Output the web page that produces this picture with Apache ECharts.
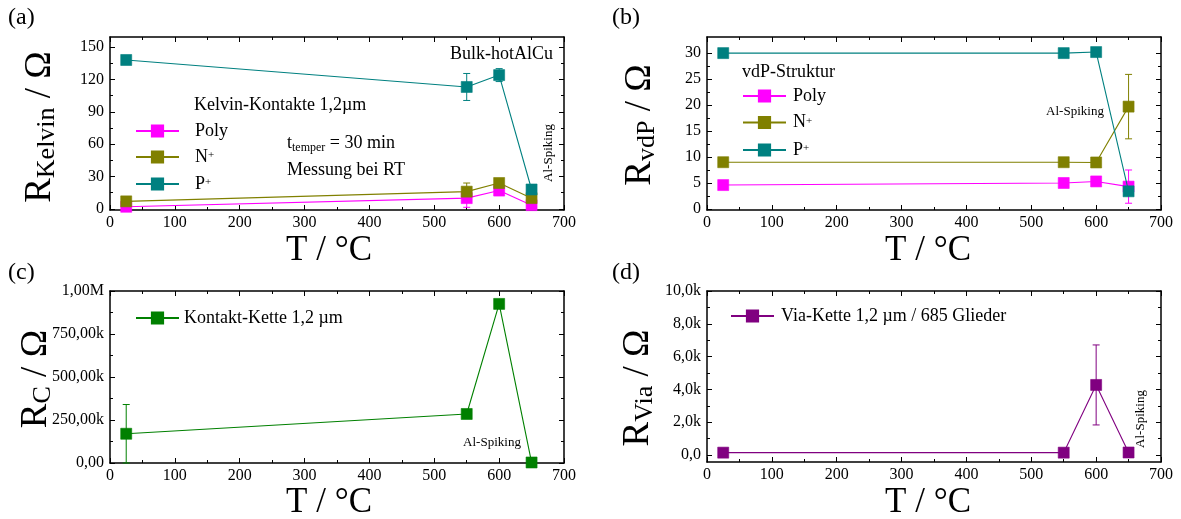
<!DOCTYPE html>
<html>
<head>
<meta charset="utf-8">
<script src="https://cdn.jsdelivr.net/npm/echarts@6/dist/echarts.min.js"></script>
<style>
  html, body { margin: 0; padding: 0; background: #fff; }
  #chart { width: 1181px; height: 519px; }
</style>
</head>
<body>
<div id="chart"></div>
<script>
// Annealing temperatures (°C)
const temps = [25, 550, 600, 650];

// (a) Kelvin contacts 1,2 µm  (Ω)
const kelvinPoly    = [2, 10, 17, 3.5];
const kelvinPolyErr = [0, 8.5, 0, 0];
const kelvinN       = [7, 16, 24, 10];
const kelvinNErr    = [0, 8, 0, 0];
const kelvinP       = [138, 113, 124, 18];
const kelvinPErr    = [0, 12.5, 6, 0];

// (b) van-der-Pauw structure (Ω)
const vdpPoly    = [4.6, 5.0, 5.3, 4.3];
const vdpPolyErr = [0, 0, 0, 3.2];
const vdpN       = [9.0, 9.0, 8.95, 19.7];
const vdpNErr    = [0, 0, 0, 6.2];
const vdpP       = [30.0, 30.0, 30.2, 3.4];
const vdpPErr    = [0, 0, 0, 0];

// (c) contact chain (Ω)
const chainC    = [170000, 285000, 925000, 3000];
const chainCErr = [170000, 0, 0, 0];

// (d) via chain, 685 links (Ω)
const chainVia    = [140, 140, 4270, 150];
const chainViaErr = [0, 0, 2440, 0];

// Tick values and labels
const kelvinTicks   = [0, 30, 60, 90, 120, 150];
const vdpTicks      = [0, 5, 10, 15, 20, 25, 30];
const chainCTicks   = [0, 250000, 500000, 750000, 1000000];
const chainCLabels  = ['0,00', '250,00k', '500,00k', '750,00k', '1,00M'];
const chainViaTicks = [0, 2000, 4000, 6000, 8000, 10000];
const chainViaLabels = ['0,0', '2,0k', '4,0k', '6,0k', '8,0k', '10,0k'];

const FONT = 'Liberation Serif';
const COL = {
  poly: '#ff00ff', n: '#808000', p: '#008080',
  chain: '#008000', via: '#800080'
};

const grids = [
  { left: 110, top: 37,  width: 454, height: 173 },
  { left: 707, top: 37,  width: 454, height: 173 },
  { left: 110, top: 291, width: 454, height: 172 },
  { left: 707, top: 291, width: 454, height: 171 }
];

const yRanges = [[-1, 159.3], [-0.2, 33.1], [0, 1000000], [-430, 10000]];
const yMajors = [kelvinTicks, vdpTicks, chainCTicks, chainViaTicks];
const yLabelFmt = [
  v => String(v),
  v => String(v),
  v => chainCLabels[chainCTicks.indexOf(v)] ?? '',
  v => chainViaLabels[chainViaTicks.indexOf(v)] ?? ''
];

function midpoints(arr) {
  const out = [];
  for (let i = 0; i < arr.length - 1; i++) out.push((arr[i] + arr[i + 1]) / 2);
  return out;
}

const axisLineStyle = { show: true, onZero: false, lineStyle: { color: '#000', width: 1.5 } };
const xAxes = [];
const yAxes = [];

grids.forEach((g, gi) => {
  ['bottom', 'top'].forEach(pos => {
    xAxes.push({
      type: 'value', gridIndex: gi, position: pos,
      min: 0, max: 700, interval: 100,
      axisLine: axisLineStyle,
      axisTick: { show: true, inside: true, length: 5, lineStyle: { color: '#000', width: 1 } },
      minorTick: { show: true, splitNumber: 2, length: 3, lineStyle: { color: '#000', width: 1 } },
      splitLine: { show: false }, minorSplitLine: { show: false },
      axisLabel: {
        show: pos === 'bottom', margin: 5, color: '#000',
        fontFamily: FONT, fontSize: 16
      }
    });
  });
  const majors = yMajors[gi];
  const minors = midpoints(majors);
  ['left', 'right'].forEach(pos => {
    yAxes.push({
      type: 'value', gridIndex: gi, position: pos,
      min: yRanges[gi][0], max: yRanges[gi][1],
      axisLine: axisLineStyle,
      axisTick: { show: true, inside: true, length: 5, customValues: majors, lineStyle: { color: '#000', width: 1 } },
      splitLine: { show: false },
      axisLabel: {
        show: pos === 'left', customValues: majors, margin: 6,
        color: '#000', fontFamily: FONT, fontSize: 16,
        formatter: yLabelFmt[gi]
      }
    });
    yAxes.push({
      type: 'value', gridIndex: gi, position: pos,
      min: yRanges[gi][0], max: yRanges[gi][1],
      axisLine: { show: false, onZero: false },
      axisTick: { show: true, inside: true, length: 3, customValues: minors, lineStyle: { color: '#000', width: 1 } },
      splitLine: { show: false },
      axisLabel: { show: false }
    });
  });
});

function lineSeries(name, gi, vals, color, z) {
  return {
    name, type: 'line', xAxisIndex: gi * 2, yAxisIndex: gi * 4,
    data: temps.map((t, i) => [t, vals[i]]),
    symbol: 'rect', symbolSize: 11, showSymbol: true,
    lineStyle: { color, width: 1.1 },
    itemStyle: { color, borderColor: color, borderWidth: 0.6, opacity: 1 },
    z, animation: false, clip: false
  };
}

function errorSeries(gi, vals, errs, color) {
  const data = [];
  temps.forEach((t, i) => {
    if (errs[i] > 0) data.push([t, vals[i] - errs[i], vals[i] + errs[i]]);
  });
  return {
    type: 'custom', xAxisIndex: gi * 2, yAxisIndex: gi * 4,
    data, silent: true, animation: false, z: 1,
    encode: { x: 0, y: [1, 2] },
    renderItem(params, api) {
      const x = api.value(0);
      const lo = api.coord([x, api.value(1)]);
      const hi = api.coord([x, api.value(2)]);
      const w = 3.5;
      const st = { stroke: color, lineWidth: 1 };
      return {
        type: 'group',
        children: [
          { type: 'line', shape: { x1: lo[0], y1: lo[1], x2: hi[0], y2: hi[1] }, style: st },
          { type: 'line', shape: { x1: hi[0] - w, y1: hi[1], x2: hi[0] + w, y2: hi[1] }, style: st },
          { type: 'line', shape: { x1: lo[0] - w, y1: lo[1], x2: lo[0] + w, y2: lo[1] }, style: st }
        ]
      };
    }
  };
}

const series = [
  errorSeries(0, kelvinPoly, kelvinPolyErr, COL.poly),
  errorSeries(0, kelvinN, kelvinNErr, COL.n),
  errorSeries(0, kelvinP, kelvinPErr, COL.p),
  lineSeries('Poly', 0, kelvinPoly, COL.poly, 2),
  lineSeries('N+', 0, kelvinN, COL.n, 3),
  lineSeries('P+', 0, kelvinP, COL.p, 4),

  errorSeries(1, vdpPoly, vdpPolyErr, COL.poly),
  errorSeries(1, vdpN, vdpNErr, COL.n),
  errorSeries(1, vdpP, vdpPErr, COL.p),
  lineSeries('Poly', 1, vdpPoly, COL.poly, 2),
  lineSeries('N+', 1, vdpN, COL.n, 3),
  lineSeries('P+', 1, vdpP, COL.p, 4),

  errorSeries(2, chainC, chainCErr, COL.chain),
  lineSeries('Kontakt-Kette 1,2 µm', 2, chainC, COL.chain, 2),

  errorSeries(3, chainVia, chainViaErr, COL.via),
  lineSeries('Via-Kette 1,2 µm / 685 Glieder', 3, chainVia, COL.via, 2)
];

const legendRich = {
  b: { fontFamily: FONT, fontSize: 18, color: '#000', lineHeight: 14 },
  s: { fontFamily: FONT, fontSize: 11, color: '#000', lineHeight: 14, verticalAlign: 'top', padding: [0, 0, 6, 0] }
};
function legendFmt() {
  return name => {
    const p = '{pad|}';
    if (name.endsWith('+')) return p + '{b|' + name.slice(0, -1) + '}{s|+}';
    return p + '{b|' + name + '}';
  };
}
function legend(left, top, names, pad, gap) {
  return {
    left, top, orient: 'vertical', padding: 0,
    data: names, itemWidth: 43, itemHeight: 14, itemGap: gap,
    selectedMode: false,
    formatter: legendFmt(),
    textStyle: {
      color: '#000', fontFamily: FONT, fontSize: 18,
      rich: Object.assign({ pad: { width: pad, lineHeight: 14 } }, legendRich)
    }
  };
}

// Text helpers
function txt(x, y, text, size, opts) {
  return Object.assign({
    type: 'text', x, y, silent: true,
    style: Object.assign({
      text, fontFamily: FONT, fontSize: size, fill: '#000',
      align: 'left', verticalAlign: 'middle'
    }, (opts && opts.style) || {})
  }, (opts && opts.el) || {});
}

function yTitle(x, y, sub) {
  return {
    type: 'text', x, y, rotation: Math.PI / 2, silent: true,
    style: {
      text: '{r|R}{s|' + sub + '}{r| / Ω}',
      align: 'center', verticalAlign: 'middle',
      rich: {
        r: { fontFamily: FONT, fontSize: 37, lineHeight: 40, fill: '#000' },
        s: { fontFamily: FONT, fontSize: 26, lineHeight: 16, verticalAlign: 'bottom', fill: '#000' }
      }
    }
  };
}

const graphic = [
  txt(8, 18, '(a)', 24),
  txt(612, 18, '(b)', 24),
  txt(8, 273, '(c)', 24),
  txt(612, 273, '(d)', 24),

  txt(329, 251, 'T / °C', 35, { style: { align: 'center' } }),
  txt(928, 251, 'T / °C', 35, { style: { align: 'center' } }),
  txt(329, 503, 'T / °C', 35, { style: { align: 'center' } }),
  txt(928, 503, 'T / °C', 35, { style: { align: 'center' } }),

  yTitle(40, 127, 'Kelvin'),
  yTitle(640, 125, 'vdP'),
  yTitle(36, 379, 'C'),
  yTitle(638, 388, 'Via'),

  // panel (a) annotations
  txt(553, 54, 'Bulk-hotAlCu', 18, { style: { align: 'right' } }),
  txt(194, 105, 'Kelvin-Kontakte 1,2µm', 18),
  {
    type: 'text', x: 287, y: 143, silent: true,
    style: {
      text: '{t|t}{s|temper}{t| = 30 min}', verticalAlign: 'middle',
      rich: {
        t: { fontFamily: FONT, fontSize: 18, lineHeight: 22, fill: '#000' },
        s: { fontFamily: FONT, fontSize: 12, lineHeight: 10, verticalAlign: 'bottom', fill: '#000' }
      }
    }
  },
  txt(287, 170, 'Messung bei RT', 18),
  txt(549, 153, 'Al-Spiking', 13, { style: { align: 'center' }, el: { rotation: Math.PI / 2 } }),

  // panel (b) annotations
  txt(742, 72, 'vdP-Struktur', 18),
  txt(1075, 112, 'Al-Spiking', 13, { style: { align: 'center' } }),

  // panel (c) annotation
  txt(492, 443, 'Al-Spiking', 13, { style: { align: 'center' } }),

  // panel (d) annotation
  txt(1141, 419, 'Al-Spiking', 13, { style: { align: 'center' }, el: { rotation: Math.PI / 2 } })
];

const chart = echarts.init(document.getElementById('chart'), null, { renderer: 'canvas' });
chart.setOption({
  animation: false,
  backgroundColor: '#fff',
  grid: grids.map(g => Object.assign({ containLabel: false }, g)),
  xAxis: xAxes,
  yAxis: yAxes,
  legend: [
    legend(135, 122, ['Poly', 'N+', 'P+'], 11, 8),
    legend(742, 87, ['Poly', 'N+', 'P+'], 2, 8.5),
    legend(135, 309, ['Kontakt-Kette 1,2 µm'], 0, 8),
    legend(730, 307, ['Via-Kette 1,2 µm / 685 Glieder'], 2, 8)
  ],
  series,
  graphic
});
</script>
</body>
</html>
